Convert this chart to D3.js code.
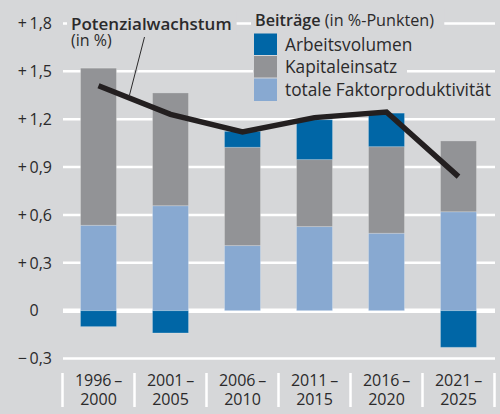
<!DOCTYPE html>
<html>
<head>
<meta charset="utf-8">
<script src="https://cdn.jsdelivr.net/npm/d3@7"></script>
<style>
  body { margin: 0; background: #d6d7d9; }
  svg { display: block; font-family: "Open Sans", sans-serif; }
</style>
</head>
<body>
<div id="chart"></div>
<script>
// Periods on the x axis
const periods = ["1996–2000", "2001–2005", "2006–2010", "2011–2015", "2016–2020", "2021–2025"];

// Contributions (in percentage points)
const tfp = [0.535, 0.658, 0.408, 0.527, 0.485, 0.62];        // totale Faktorproduktivität
const kapital = [0.985, 0.707, 0.616, 0.42, 0.543, 0.444];    // Kapitaleinsatz
const arbeit = [-0.10, -0.14, 0.10, 0.25, 0.21, -0.23];       // Arbeitsvolumen

// Potential growth (in %)
const potenzial = [1.41, 1.23, 1.12, 1.21, 1.245, 0.84];

// Y ticks and their labels
const yTicks = [-0.3, 0, 0.3, 0.6, 0.9, 1.2, 1.5, 1.8];
const yTickLabels = ["\u2212\u20090,3", "0", "+\u20090,3", "+\u20090,6", "+\u20090,9", "+\u20091,2", "+\u20091,5", "+\u20091,8"];

const seriesKeys = ["tfp", "kapital", "arbeit"];
const seriesNames = { arbeit: "Arbeitsvolumen", kapital: "Kapitaleinsatz", tfp: "totale Faktorproduktivität" };
const colors = { arbeit: "#0066a6", kapital: "#929396", tfp: "#88a9d1" };

const width = 500, height = 414;
const bg = "#d6d7d9";
const textColor = "#2b2a2b";

const svg = d3.select("#chart").append("svg")
    .attr("width", width)
    .attr("height", height);

svg.append("rect").attr("width", width).attr("height", height).attr("fill", bg);

const x = d3.scaleBand()
    .domain(periods)
    .range([62.5, 494.5])
    .paddingInner(0.5)
    .paddingOuter(0.25);

const y = d3.scaleLinear()
    .domain([-0.3, 1.8])
    .range([358.5, 23.5]);

// Gridlines
svg.append("g")
    .selectAll("line")
    .data(yTicks)
    .join("line")
    .attr("x1", 63)
    .attr("x2", 495)
    .attr("y1", d => y(d))
    .attr("y2", d => y(d))
    .attr("stroke", "#fff")
    .attr("stroke-width", d => d === 0 ? 4.5 : 2.5);

// Y labels (integer digits aligned, so zero gets a hidden decimal part)
const yLab = svg.append("g")
    .selectAll("text")
    .data(yTicks)
    .join("text")
    .attr("x", 52)
    .attr("y", d => y(d))
    .attr("dy", "0.36em")
    .attr("text-anchor", "end")
    .attr("font-size", 16)
    .attr("fill", textColor);
yLab.append("tspan").text((d, i) => yTickLabels[i]);
yLab.filter(d => d === 0).append("tspan").attr("fill-opacity", 0).text(",3");

// Category separators and labels
svg.append("g")
    .selectAll("line")
    .data(d3.range(periods.length + 1))
    .join("line")
    .attr("x1", i => x.range()[0] + i * x.step())
    .attr("x2", i => x.range()[0] + i * x.step())
    .attr("y1", 373)
    .attr("y2", 407)
    .attr("stroke", "#fff")
    .attr("stroke-width", 2.5);

const catLab = svg.append("g")
    .selectAll("text")
    .data(periods)
    .join("text")
    .attr("text-anchor", "middle")
    .attr("font-size", 16)
    .attr("fill", textColor);
catLab.append("tspan")
    .attr("x", d => x(d) + x.bandwidth() / 2)
    .attr("y", 386)
    .text(d => d.split("–")[0] + "\u2009–");
catLab.append("tspan")
    .attr("x", d => x(d) + x.bandwidth() / 2)
    .attr("y", 405)
    .text(d => d.split("–")[1]);

// Text annotations with background boxes covering gridlines
function boxedText(g, padL, padR) {
    const b = g.node().getBBox();
    g.insert("rect", ":first-child")
        .attr("x", b.x - padL)
        .attr("y", b.y)
        .attr("width", b.width + padL + padR)
        .attr("height", b.height)
        .attr("fill", bg);
}

const potTitle = svg.append("g");
potTitle.append("text")
    .attr("x", 71).attr("y", 29.5)
    .attr("font-size", 17).attr("font-weight", 600)
    .attr("fill", textColor)
    .text("Potenzialwachstum");
boxedText(potTitle, 4, 5);
svg.append("text")
    .attr("x", 71).attr("y", 45.5)
    .attr("font-size", 16)
    .attr("fill", textColor)
    .text("(in %)");

const legTitle = svg.append("g");
const lt = legTitle.append("text")
    .attr("x", 255).attr("y", 25.5)
    .attr("font-size", 16.2)
    .attr("fill", textColor);
lt.append("tspan").attr("font-weight", 600).text("Beiträge ");
lt.append("tspan").text("(in %-Punkten)");
boxedText(legTitle, 4, 10);

// Legend
const legendKeys = ["arbeit", "kapital", "tfp"];
const legend = svg.append("g");
legendKeys.forEach((k, i) => {
    const row = legend.append("g");
    row.append("text")
        .attr("x", 285)
        .attr("y", 50.5 + i * 22.5)
        .attr("font-size", 17.3)
        .attr("fill", textColor)
        .text(seriesNames[k]);
    boxedText(row, 32, 10);
    row.append("rect")
        .attr("x", 254)
        .attr("y", 33.5 + i * 22.5)
        .attr("width", 23)
        .attr("height", 22.5)
        .attr("fill", colors[k]);
});

// Stacked bars
const table = periods.map((p, i) => ({ period: p, tfp: tfp[i], kapital: kapital[i], arbeit: arbeit[i] }));
const stacked = d3.stack()
    .keys(seriesKeys)
    .offset(d3.stackOffsetDiverging)(table);

svg.append("g")
    .selectAll("g")
    .data(stacked)
    .join("g")
    .attr("fill", d => colors[d.key])
    .selectAll("rect")
    .data(d => d)
    .join("rect")
    .attr("x", d => x(d.data.period))
    .attr("width", x.bandwidth())
    .attr("y", d => y(Math.max(d[0], d[1])))
    .attr("height", d => Math.abs(y(d[0]) - y(d[1])))
    .attr("stroke", "rgba(255,255,255,0.22)")
    .attr("stroke-width", 1);

// Potential growth line
const lineGen = d3.line()
    .x((d, i) => x(periods[i]) + x.bandwidth() / 2)
    .y(d => y(d));

// Pointer from label to line
const px = 129.5;
const x0 = x(periods[0]) + x.bandwidth() / 2, x1 = x(periods[1]) + x.bandwidth() / 2;
const py = y(potenzial[0] + (potenzial[1] - potenzial[0]) * (px - x0) / (x1 - x0)) - 3;
svg.append("line")
    .attr("x1", 144.5).attr("y1", 37).attr("x2", px).attr("y2", py)
    .attr("stroke", bg).attr("stroke-width", 3.5);
svg.append("line")
    .attr("x1", 144.5).attr("y1", 37).attr("x2", px).attr("y2", py)
    .attr("stroke", textColor).attr("stroke-width", 1);

svg.append("path")
    .datum(potenzial)
    .attr("d", lineGen)
    .attr("fill", "none")
    .attr("stroke", "#231f20")
    .attr("stroke-width", 5.5)
    .attr("stroke-linejoin", "miter");
</script>
</body>
</html>
